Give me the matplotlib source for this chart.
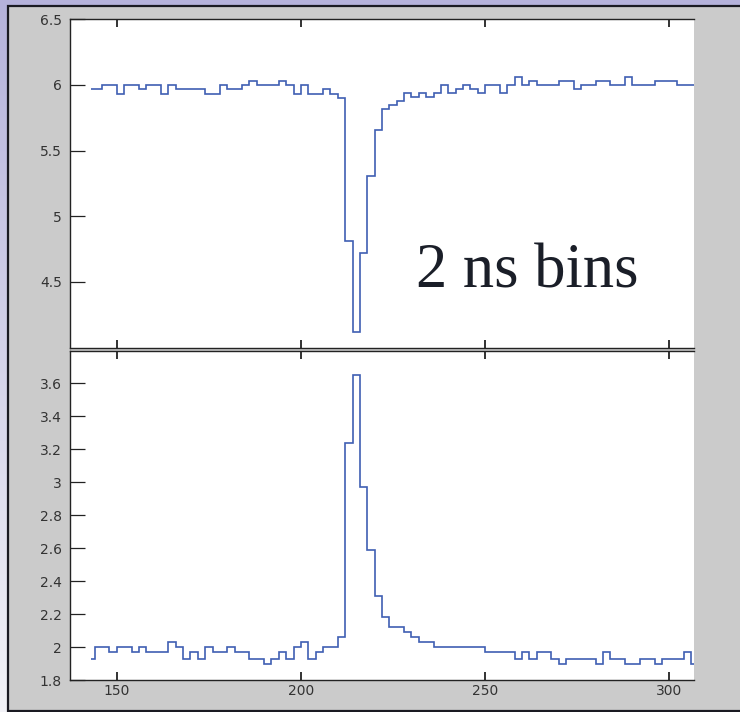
import numpy as np
import matplotlib
matplotlib.use("Agg")
import matplotlib.pyplot as plt
from matplotlib.patches import Rectangle

# ---------------- data (2 ns bins) ----------------
first_bin = 142          # start of first bin (ns)
bin_width = 2            # ns
t_start = 143            # data begins mid-way through first bin

top_values = [
    5.97, 5.97, 6.00, 6.00, 5.93, 6.00, 6.00, 5.97, 6.00, 6.00,   # 142-160
    5.93, 6.00, 5.97, 5.97, 5.97, 5.97, 5.93, 5.93, 6.00, 5.97,   # 162-180
    5.97, 6.00, 6.03, 6.00, 6.00, 6.00, 6.03, 6.00, 5.93, 6.00,   # 182-200
    5.93, 5.93, 5.97, 5.93, 5.90, 4.81, 4.12, 4.72, 5.31, 5.66,   # 202-220
    5.82, 5.85, 5.88, 5.94, 5.91, 5.94, 5.91, 5.94, 6.00, 5.94,   # 222-240
    5.97, 6.00, 5.97, 5.94, 6.00, 6.00, 5.94, 6.00, 6.06, 6.00,   # 242-260
    6.03, 6.00, 6.00, 6.00, 6.03, 6.03, 5.97, 6.00, 6.00, 6.03,   # 262-280
    6.03, 6.00, 6.00, 6.06, 6.00, 6.00, 6.00, 6.03, 6.03, 6.03,   # 282-300
    6.00, 6.00, 6.00,                                             # 302-306
]

bottom_values = [
    1.93, 2.00, 2.00, 1.97, 2.00, 2.00, 1.97, 2.00, 1.97, 1.97,   # 142-160
    1.97, 2.03, 2.00, 1.93, 1.97, 1.93, 2.00, 1.97, 1.97, 2.00,   # 162-180
    1.97, 1.97, 1.93, 1.93, 1.90, 1.93, 1.97, 1.93, 2.00, 2.03,   # 182-200
    1.93, 1.97, 2.00, 2.00, 2.06, 3.24, 3.65, 2.97, 2.59, 2.31,   # 202-220
    2.18, 2.12, 2.12, 2.09, 2.06, 2.03, 2.03, 2.00, 2.00, 2.00,   # 222-240
    2.00, 2.00, 2.00, 2.00, 1.97, 1.97, 1.97, 1.97, 1.93, 1.97,   # 242-260
    1.93, 1.97, 1.97, 1.93, 1.90, 1.93, 1.93, 1.93, 1.93, 1.90,   # 262-280
    1.97, 1.93, 1.93, 1.90, 1.90, 1.93, 1.93, 1.90, 1.93, 1.93,   # 282-300
    1.93, 1.97, 1.90,                                             # 302-306
]

x_ticks = [150, 200, 250, 300]
top_yticks = [4.5, 5, 5.5, 6, 6.5]
bottom_yticks = [1.8, 2, 2.2, 2.4, 2.6, 2.8, 3, 3.2, 3.4, 3.6]
annotation = "2 ns bins"

# ---------------- figure ----------------
W, H = 740, 712
fig = plt.figure(figsize=(W / 100, H / 100), dpi=100)

# slide background (lavender gradient)
bg = fig.add_axes([0, 0, 1, 1], zorder=-10)
grad = np.linspace(0, 1, 256)[:, None]
c_top = np.array([0.71, 0.70, 0.86])
c_bot = np.array([0.95, 0.95, 0.97])
img = c_top[None, None, :] * (1 - grad[:, :, None]) + c_bot[None, None, :] * grad[:, :, None]
bg.imshow(img, aspect="auto", extent=[0, 1, 0, 1], origin="upper")
bg.set_xlim(0, 1)
bg.set_ylim(0, 1)
bg.axis("off")

# gray figure panel
panel = Rectangle((8 / W, 1 - 711 / H), (W - 8) / W + 0.01, (711 - 6) / H,
                  transform=fig.transFigure, facecolor="#cbcbcb",
                  edgecolor="#1a1a22", linewidth=1.6, zorder=-5)
fig.patches.append(panel)

left = 70 / W
width = (694 - 70) / W
ax_top = fig.add_axes([left, 1 - 347.5 / H, width, (347.5 - 19.3) / H])
ax_bot = fig.add_axes([left, 1 - 680 / H, width, (680 - 350.5) / H])

n = len(top_values)
edges = first_bin + bin_width * np.arange(n + 1, dtype=float)
edges[0] = t_start

line_color = "#3f5fb3"
ax_top.stairs(top_values, edges, baseline=None, color=line_color, linewidth=1.2)
ax_bot.stairs(bottom_values, edges, baseline=None, color=line_color, linewidth=1.2)

xlim = (137.3, 306.7)
for ax in (ax_top, ax_bot):
    ax.set_facecolor("white")
    ax.set_xlim(*xlim)
    ax.set_xticks(x_ticks)
    ax.spines["right"].set_visible(False)
    for s in ("left", "top", "bottom"):
        ax.spines[s].set_color("#222222")
        ax.spines[s].set_linewidth(1.0)
    ax.tick_params(axis="x", direction="in", top=True, bottom=True,
                   length=5.5, width=1.3, color="#222222",
                   labelsize=10, labelcolor="#333333", pad=3.0)
    ax.tick_params(axis="y", direction="in", left=True, right=False,
                   length=11, width=0.9, color="#222222",
                   labelsize=10, labelcolor="#333333", pad=5.8)

ax_top.set_ylim(4.0, 6.5)
ax_top.set_yticks(top_yticks)
ax_top.set_yticklabels([f"{v:g}" for v in top_yticks])
ax_top.tick_params(axis="x", labelbottom=False)

ax_bot.set_ylim(1.8, 3.8)
ax_bot.set_yticks(bottom_yticks)
ax_bot.set_yticklabels([f"{v:g}" for v in bottom_yticks])
ax_bot.set_xticklabels([f"{v:g}" for v in x_ticks])

fig.text(416 / W, 1 - 287.3 / H, annotation, family="Liberation Serif",
         fontsize=45, color="#1a1e28", ha="left", va="baseline")

fig.savefig("out.png", dpi=100)
